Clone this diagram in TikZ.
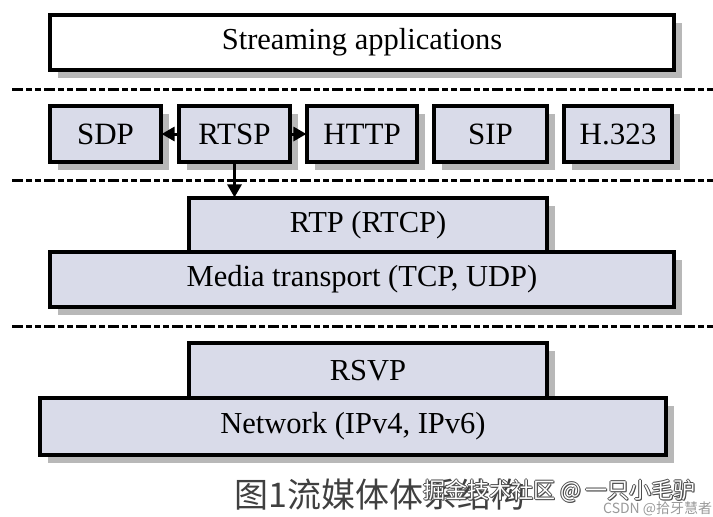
\documentclass[tikz,border=0pt]{standalone}
\usepackage{fontspec}
\setmainfont{Liberation Serif}
\newfontfamily\cjk{Noto Sans CJK SC}
\newfontfamily\cjksans{Noto Sans CJK SC}
\usetikzlibrary{shadows,arrows.meta}
\definecolor{boxfill}{HTML}{D9DBE9}
\definecolor{shadowgray}{HTML}{B8B8B8}
\tikzset{
  layerbox/.style={draw=black, line width=3.2pt, fill=boxfill, inner sep=0pt,
    font=\fontsize{30.5}{32}\selectfont,
    drop shadow={shadow xshift=8pt, shadow yshift=-8pt, fill=shadowgray, opacity=1}},
  protobox/.style={layerbox, font=\fontsize{31}{33}\selectfont},
  sep/.style={line width=3pt, dash pattern=on 11pt off 3pt on 6pt off 3pt on 6pt off 3pt},
  arr/.style={line width=3pt, -{Triangle[length=13pt,width=14pt]}, shorten >=-1pt},
}
\begin{document}
\begin{tikzpicture}[x=1pt,y=-1pt]
\useasboundingbox (0,0) rectangle (713,517);
% top application box
\node[layerbox, fill=white, minimum width=624pt, minimum height=55pt]
  (app) at (362,42.5) {Streaming applications};
\draw[sep] (12,89) -- (713,89);
% protocol row
\node[protobox, minimum width=111pt, minimum height=56pt] (sdp)  at (105.5,134) {SDP};
\node[protobox, minimum width=111pt, minimum height=56pt] (rtsp) at (234.5,134) {RTSP};
\node[protobox, minimum width=110pt, minimum height=56pt] (http) at (362,134) {HTTP};
\node[protobox, minimum width=113pt, minimum height=56pt] (sip)  at (490.5,134) {SIP};
\node[protobox, minimum width=108pt, minimum height=56pt] (h323) at (618,134) {H.323};
\draw[sep] (12,180) -- (713,180);
% transport
\node[layerbox, minimum width=358pt, minimum height=54pt] (rtp) at (368,225) {RTP (RTCP)};
\node[layerbox, minimum width=624pt, minimum height=55pt] (media) at (362,279.5) {Media transport (TCP, UDP)};
\draw[sep] (12,326) -- (713,326);
% network
\node[layerbox, minimum width=358pt, minimum height=55pt] (rsvp) at (368,370.5) {RSVP};
\node[layerbox, minimum width=626pt, minimum height=57pt] (net) at (353,426.5) {Network (IPv4, IPv6)};
% connectors
\draw[arr] (rtsp.west) -- (sdp.east);
\draw[arr] (rtsp.east) -- (http.west);
\draw[arr] (rtsp.south) -- (rtsp.south |- rtp.north);
% caption
\node[anchor=west, inner sep=0pt, text=black!75, font=\cjk\fontsize{34}{36}\selectfont] (cap) at (234,495) {图1流媒体体系结构};
% watermarks
\foreach \dx/\dy in {1/0,-1/0,0/1,0/-1,1/1}
  \node[anchor=west, inner sep=0pt, text=black!70, font=\cjksans\fontsize{22}{24}\selectfont] at (423+\dx,491+\dy) {掘金技术社区 @ 一只小毛驴};
\node[anchor=west, inner sep=0pt, text=white, font=\cjksans\fontsize{22}{24}\selectfont] (wm) at (423,491) {掘金技术社区 @ 一只小毛驴};
\node[anchor=west, inner sep=0pt, text=black!40, font=\cjksans\fontsize{14}{16}\selectfont] (csdn) at (603,509) {CSDN @拾牙慧者};
\end{tikzpicture}
\end{document}
